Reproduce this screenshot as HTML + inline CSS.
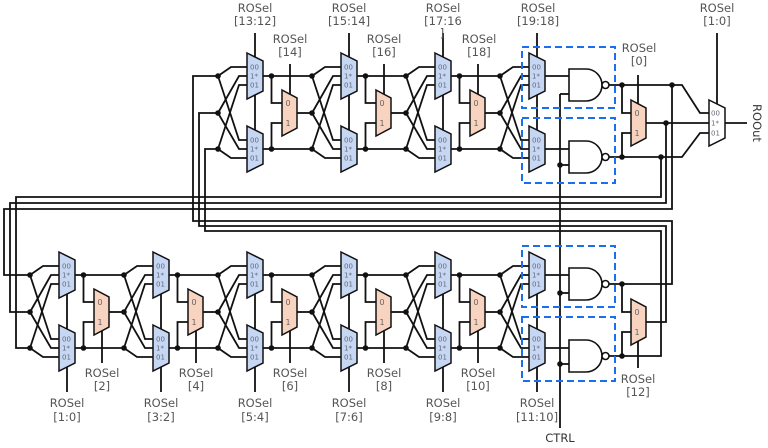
<!DOCTYPE html>
<html><head><meta charset="utf-8">
<style>
html,body{margin:0;padding:0;background:#fff;}
svg{display:block;}
.w{fill:none;stroke:#111;stroke-width:1.8;}
.b{fill:#c6d7f3;stroke:#111;stroke-width:1.5;}
.o{fill:#f8d3bf;stroke:#111;stroke-width:1.5;}
.d{fill:#111;}
.t{font-family:"DejaVu Sans","Liberation Sans",sans-serif;font-size:11.5px;fill:#555;text-anchor:middle;}
.m{font-family:"DejaVu Sans","Liberation Sans",sans-serif;font-size:7px;fill:#667;}
.n{font-family:"DejaVu Sans","Liberation Sans",sans-serif;font-size:8px;fill:#666;text-anchor:middle;}
.x{fill:none;stroke:#1a6ff0;stroke-width:2;stroke-dasharray:7 4;}
.g{fill:#fff;stroke:#111;stroke-width:1.6;}
</style></head><body>
<svg width="768" height="448" viewBox="0 0 768 448" xmlns="http://www.w3.org/2000/svg">

<!-- ===== global wiring ===== -->
<g class="w">
<polyline points="672,85 672,209 4,209 4,275 30,275"/>
<polyline points="666,123 666,203 10,203 10,312 30,312"/>
<polyline points="661,157 661,197 16,197 16,348 30,348"/>
<polyline points="609,284 672,284 672,221 193,221 193,76 218,76"/>
<polyline points="646,322 666,322 666,226 199,226 199,113 218,113"/>
<polyline points="609,356 661,356 661,231 205,231 205,149 218,149"/>
<line x1="560" y1="94" x2="560" y2="428"/>
<line x1="560" y1="94" x2="569" y2="94"/>
<line x1="560" y1="165" x2="569" y2="165"/>
<line x1="560" y1="293" x2="569" y2="293"/>
<line x1="560" y1="364" x2="569" y2="364"/>
<polyline points="609,85 682,85 700,113 709,113"/>
<polyline points="609,157 682,157 700,133 709,133"/>
<polyline points="622,85 622,113 631,113"/>
<polyline points="622,157 622,133 631,133"/>
<line x1="646" y1="123" x2="709" y2="123"/>
<line x1="725" y1="123" x2="747" y2="123"/>
<line x1="717" y1="33" x2="717" y2="106"/>
<line x1="638" y1="75" x2="638" y2="106"/>
<polyline points="622,284 622,312 631,312"/>
<polyline points="622,356 622,332 631,332"/>
<line x1="638" y1="340" x2="638" y2="368"/>
</g>

<!-- ===== TOP stages ===== -->
<g transform="translate(247,76)">
<g class="w">
<polyline points="-29,0 -16,-9 0,-9"/><polyline points="-29,37 -8,0 0,0"/><polyline points="-29,73 -8,9 0,9"/>
<polyline points="-29,0 -8,64 0,64"/><polyline points="-29,37 -8,73 0,73"/><polyline points="-29,73 -16,82 0,82"/>
<line x1="8" y1="-43" x2="8" y2="70"/>
<line x1="16" y1="0" x2="65" y2="0"/><line x1="16" y1="73" x2="65" y2="73"/><line x1="50" y1="37" x2="65" y2="37"/>
<polyline points="24.5,0 24.5,27 36,27"/><polyline points="24.5,73 24.5,47 36,47"/>
<line x1="43" y1="-12" x2="43" y2="20"/>
</g>
<polygon class="b" points="0,-23 16,-15 16,15 0,23"/><polygon class="b" points="0,50 16,58 16,88 0,96"/>
<polygon class="o" points="35,14 50,22 50,52 35,60"/>
<text class="m" x="3" y="-6.5">00</text><text class="m" x="3" y="2.5">1*</text><text class="m" x="3" y="11.5">01</text>
<text class="m" x="3" y="66.5">00</text><text class="m" x="3" y="75.5">1*</text><text class="m" x="3" y="84.5">01</text>
<text class="n" x="41" y="30">0</text><text class="n" x="41" y="50">1</text>
<circle class="d" cx="-29" cy="0" r="2.8"/><circle class="d" cx="-29" cy="37" r="2.8"/><circle class="d" cx="-29" cy="73" r="2.8"/>
<circle class="d" cx="24.5" cy="0" r="2.8"/><circle class="d" cx="24.5" cy="73" r="2.8"/>
</g>

<g transform="translate(341,76)">
<g class="w">
<polyline points="-29,0 -16,-9 0,-9"/><polyline points="-29,37 -8,0 0,0"/><polyline points="-29,73 -8,9 0,9"/>
<polyline points="-29,0 -8,64 0,64"/><polyline points="-29,37 -8,73 0,73"/><polyline points="-29,73 -16,82 0,82"/>
<line x1="8" y1="-43" x2="8" y2="70"/>
<line x1="16" y1="0" x2="65" y2="0"/><line x1="16" y1="73" x2="65" y2="73"/><line x1="50" y1="37" x2="65" y2="37"/>
<polyline points="24.5,0 24.5,27 36,27"/><polyline points="24.5,73 24.5,47 36,47"/>
<line x1="43" y1="-12" x2="43" y2="20"/>
</g>
<polygon class="b" points="0,-23 16,-15 16,15 0,23"/><polygon class="b" points="0,50 16,58 16,88 0,96"/>
<polygon class="o" points="35,14 50,22 50,52 35,60"/>
<text class="m" x="3" y="-6.5">00</text><text class="m" x="3" y="2.5">1*</text><text class="m" x="3" y="11.5">01</text>
<text class="m" x="3" y="66.5">00</text><text class="m" x="3" y="75.5">1*</text><text class="m" x="3" y="84.5">01</text>
<text class="n" x="41" y="30">0</text><text class="n" x="41" y="50">1</text>
<circle class="d" cx="-29" cy="0" r="2.8"/><circle class="d" cx="-29" cy="37" r="2.8"/><circle class="d" cx="-29" cy="73" r="2.8"/>
<circle class="d" cx="24.5" cy="0" r="2.8"/><circle class="d" cx="24.5" cy="73" r="2.8"/>
</g>

<g transform="translate(435,76)">
<g class="w">
<polyline points="-29,0 -16,-9 0,-9"/><polyline points="-29,37 -8,0 0,0"/><polyline points="-29,73 -8,9 0,9"/>
<polyline points="-29,0 -8,64 0,64"/><polyline points="-29,37 -8,73 0,73"/><polyline points="-29,73 -16,82 0,82"/>
<line x1="8" y1="-43" x2="8" y2="70"/>
<line x1="16" y1="0" x2="65" y2="0"/><line x1="16" y1="73" x2="65" y2="73"/><line x1="50" y1="37" x2="65" y2="37"/>
<polyline points="24.5,0 24.5,27 36,27"/><polyline points="24.5,73 24.5,47 36,47"/>
<line x1="43" y1="-12" x2="43" y2="20"/>
</g>
<polygon class="b" points="0,-23 16,-15 16,15 0,23"/><polygon class="b" points="0,50 16,58 16,88 0,96"/>
<polygon class="o" points="35,14 50,22 50,52 35,60"/>
<text class="m" x="3" y="-6.5">00</text><text class="m" x="3" y="2.5">1*</text><text class="m" x="3" y="11.5">01</text>
<text class="m" x="3" y="66.5">00</text><text class="m" x="3" y="75.5">1*</text><text class="m" x="3" y="84.5">01</text>
<text class="n" x="41" y="30">0</text><text class="n" x="41" y="50">1</text>
<circle class="d" cx="-29" cy="0" r="2.8"/><circle class="d" cx="-29" cy="37" r="2.8"/><circle class="d" cx="-29" cy="73" r="2.8"/>
<circle class="d" cx="24.5" cy="0" r="2.8"/><circle class="d" cx="24.5" cy="73" r="2.8"/>
</g>

<g transform="translate(529,76)">
<g class="w">
<polyline points="-29,0 -16,-9 0,-9"/><polyline points="-29,37 -8,0 0,0"/><polyline points="-29,73 -8,9 0,9"/>
<polyline points="-29,0 -8,64 0,64"/><polyline points="-29,37 -8,73 0,73"/><polyline points="-29,73 -16,82 0,82"/>
<line x1="8" y1="-43" x2="8" y2="70"/>
<line x1="16" y1="0" x2="40" y2="0"/><line x1="16" y1="73" x2="40" y2="73"/>
</g>
<polygon class="b" points="0,-23 16,-15 16,15 0,23"/><polygon class="b" points="0,50 16,58 16,88 0,96"/>
<text class="m" x="3" y="-6.5">00</text><text class="m" x="3" y="2.5">1*</text><text class="m" x="3" y="11.5">01</text>
<text class="m" x="3" y="66.5">00</text><text class="m" x="3" y="75.5">1*</text><text class="m" x="3" y="84.5">01</text>
<circle class="d" cx="-29" cy="0" r="2.8"/><circle class="d" cx="-29" cy="37" r="2.8"/><circle class="d" cx="-29" cy="73" r="2.8"/>
</g>

<!-- ===== BOTTOM stages ===== -->
<g transform="translate(59,275)">
<g class="w">
<polyline points="-29,0 -16,-9 0,-9"/><polyline points="-29,37 -8,0 0,0"/><polyline points="-29,73 -8,9 0,9"/>
<polyline points="-29,0 -8,64 0,64"/><polyline points="-29,37 -8,73 0,73"/><polyline points="-29,73 -16,82 0,82"/>
<line x1="8" y1="0" x2="8" y2="117"/>
<line x1="16" y1="0" x2="65" y2="0"/><line x1="16" y1="73" x2="65" y2="73"/><line x1="50" y1="37" x2="65" y2="37"/>
<polyline points="24.5,0 24.5,27 36,27"/><polyline points="24.5,73 24.5,47 36,47"/>
<line x1="43" y1="55" x2="43" y2="88"/>
</g>
<polygon class="b" points="0,-23 16,-15 16,15 0,23"/><polygon class="b" points="0,50 16,58 16,88 0,96"/>
<polygon class="o" points="35,14 50,22 50,52 35,60"/>
<text class="m" x="3" y="-6.5">00</text><text class="m" x="3" y="2.5">1*</text><text class="m" x="3" y="11.5">01</text>
<text class="m" x="3" y="66.5">00</text><text class="m" x="3" y="75.5">1*</text><text class="m" x="3" y="84.5">01</text>
<text class="n" x="41" y="30">0</text><text class="n" x="41" y="50">1</text>
<circle class="d" cx="-29" cy="0" r="2.8"/><circle class="d" cx="-29" cy="37" r="2.8"/><circle class="d" cx="-29" cy="73" r="2.8"/>
<circle class="d" cx="24.5" cy="0" r="2.8"/><circle class="d" cx="24.5" cy="73" r="2.8"/>
</g>

<g transform="translate(153,275)">
<g class="w">
<polyline points="-29,0 -16,-9 0,-9"/><polyline points="-29,37 -8,0 0,0"/><polyline points="-29,73 -8,9 0,9"/>
<polyline points="-29,0 -8,64 0,64"/><polyline points="-29,37 -8,73 0,73"/><polyline points="-29,73 -16,82 0,82"/>
<line x1="8" y1="0" x2="8" y2="117"/>
<line x1="16" y1="0" x2="65" y2="0"/><line x1="16" y1="73" x2="65" y2="73"/><line x1="50" y1="37" x2="65" y2="37"/>
<polyline points="24.5,0 24.5,27 36,27"/><polyline points="24.5,73 24.5,47 36,47"/>
<line x1="43" y1="55" x2="43" y2="88"/>
</g>
<polygon class="b" points="0,-23 16,-15 16,15 0,23"/><polygon class="b" points="0,50 16,58 16,88 0,96"/>
<polygon class="o" points="35,14 50,22 50,52 35,60"/>
<text class="m" x="3" y="-6.5">00</text><text class="m" x="3" y="2.5">1*</text><text class="m" x="3" y="11.5">01</text>
<text class="m" x="3" y="66.5">00</text><text class="m" x="3" y="75.5">1*</text><text class="m" x="3" y="84.5">01</text>
<text class="n" x="41" y="30">0</text><text class="n" x="41" y="50">1</text>
<circle class="d" cx="-29" cy="0" r="2.8"/><circle class="d" cx="-29" cy="37" r="2.8"/><circle class="d" cx="-29" cy="73" r="2.8"/>
<circle class="d" cx="24.5" cy="0" r="2.8"/><circle class="d" cx="24.5" cy="73" r="2.8"/>
</g>

<g transform="translate(247,275)">
<g class="w">
<polyline points="-29,0 -16,-9 0,-9"/><polyline points="-29,37 -8,0 0,0"/><polyline points="-29,73 -8,9 0,9"/>
<polyline points="-29,0 -8,64 0,64"/><polyline points="-29,37 -8,73 0,73"/><polyline points="-29,73 -16,82 0,82"/>
<line x1="8" y1="0" x2="8" y2="117"/>
<line x1="16" y1="0" x2="65" y2="0"/><line x1="16" y1="73" x2="65" y2="73"/><line x1="50" y1="37" x2="65" y2="37"/>
<polyline points="24.5,0 24.5,27 36,27"/><polyline points="24.5,73 24.5,47 36,47"/>
<line x1="43" y1="55" x2="43" y2="88"/>
</g>
<polygon class="b" points="0,-23 16,-15 16,15 0,23"/><polygon class="b" points="0,50 16,58 16,88 0,96"/>
<polygon class="o" points="35,14 50,22 50,52 35,60"/>
<text class="m" x="3" y="-6.5">00</text><text class="m" x="3" y="2.5">1*</text><text class="m" x="3" y="11.5">01</text>
<text class="m" x="3" y="66.5">00</text><text class="m" x="3" y="75.5">1*</text><text class="m" x="3" y="84.5">01</text>
<text class="n" x="41" y="30">0</text><text class="n" x="41" y="50">1</text>
<circle class="d" cx="-29" cy="0" r="2.8"/><circle class="d" cx="-29" cy="37" r="2.8"/><circle class="d" cx="-29" cy="73" r="2.8"/>
<circle class="d" cx="24.5" cy="0" r="2.8"/><circle class="d" cx="24.5" cy="73" r="2.8"/>
</g>

<g transform="translate(341,275)">
<g class="w">
<polyline points="-29,0 -16,-9 0,-9"/><polyline points="-29,37 -8,0 0,0"/><polyline points="-29,73 -8,9 0,9"/>
<polyline points="-29,0 -8,64 0,64"/><polyline points="-29,37 -8,73 0,73"/><polyline points="-29,73 -16,82 0,82"/>
<line x1="8" y1="0" x2="8" y2="117"/>
<line x1="16" y1="0" x2="65" y2="0"/><line x1="16" y1="73" x2="65" y2="73"/><line x1="50" y1="37" x2="65" y2="37"/>
<polyline points="24.5,0 24.5,27 36,27"/><polyline points="24.5,73 24.5,47 36,47"/>
<line x1="43" y1="55" x2="43" y2="88"/>
</g>
<polygon class="b" points="0,-23 16,-15 16,15 0,23"/><polygon class="b" points="0,50 16,58 16,88 0,96"/>
<polygon class="o" points="35,14 50,22 50,52 35,60"/>
<text class="m" x="3" y="-6.5">00</text><text class="m" x="3" y="2.5">1*</text><text class="m" x="3" y="11.5">01</text>
<text class="m" x="3" y="66.5">00</text><text class="m" x="3" y="75.5">1*</text><text class="m" x="3" y="84.5">01</text>
<text class="n" x="41" y="30">0</text><text class="n" x="41" y="50">1</text>
<circle class="d" cx="-29" cy="0" r="2.8"/><circle class="d" cx="-29" cy="37" r="2.8"/><circle class="d" cx="-29" cy="73" r="2.8"/>
<circle class="d" cx="24.5" cy="0" r="2.8"/><circle class="d" cx="24.5" cy="73" r="2.8"/>
</g>

<g transform="translate(435,275)">
<g class="w">
<polyline points="-29,0 -16,-9 0,-9"/><polyline points="-29,37 -8,0 0,0"/><polyline points="-29,73 -8,9 0,9"/>
<polyline points="-29,0 -8,64 0,64"/><polyline points="-29,37 -8,73 0,73"/><polyline points="-29,73 -16,82 0,82"/>
<line x1="8" y1="0" x2="8" y2="117"/>
<line x1="16" y1="0" x2="65" y2="0"/><line x1="16" y1="73" x2="65" y2="73"/><line x1="50" y1="37" x2="65" y2="37"/>
<polyline points="24.5,0 24.5,27 36,27"/><polyline points="24.5,73 24.5,47 36,47"/>
<line x1="43" y1="55" x2="43" y2="88"/>
</g>
<polygon class="b" points="0,-23 16,-15 16,15 0,23"/><polygon class="b" points="0,50 16,58 16,88 0,96"/>
<polygon class="o" points="35,14 50,22 50,52 35,60"/>
<text class="m" x="3" y="-6.5">00</text><text class="m" x="3" y="2.5">1*</text><text class="m" x="3" y="11.5">01</text>
<text class="m" x="3" y="66.5">00</text><text class="m" x="3" y="75.5">1*</text><text class="m" x="3" y="84.5">01</text>
<text class="n" x="41" y="30">0</text><text class="n" x="41" y="50">1</text>
<circle class="d" cx="-29" cy="0" r="2.8"/><circle class="d" cx="-29" cy="37" r="2.8"/><circle class="d" cx="-29" cy="73" r="2.8"/>
<circle class="d" cx="24.5" cy="0" r="2.8"/><circle class="d" cx="24.5" cy="73" r="2.8"/>
</g>

<g transform="translate(529,275)">
<g class="w">
<polyline points="-29,0 -16,-9 0,-9"/><polyline points="-29,37 -8,0 0,0"/><polyline points="-29,73 -8,9 0,9"/>
<polyline points="-29,0 -8,64 0,64"/><polyline points="-29,37 -8,73 0,73"/><polyline points="-29,73 -16,82 0,82"/>
<line x1="8" y1="0" x2="8" y2="117"/>
<line x1="16" y1="0" x2="40" y2="0"/><line x1="16" y1="73" x2="40" y2="73"/>
</g>
<polygon class="b" points="0,-23 16,-15 16,15 0,23"/><polygon class="b" points="0,50 16,58 16,88 0,96"/>
<text class="m" x="3" y="-6.5">00</text><text class="m" x="3" y="2.5">1*</text><text class="m" x="3" y="11.5">01</text>
<text class="m" x="3" y="66.5">00</text><text class="m" x="3" y="75.5">1*</text><text class="m" x="3" y="84.5">01</text>
<circle class="d" cx="-29" cy="0" r="2.8"/><circle class="d" cx="-29" cy="37" r="2.8"/><circle class="d" cx="-29" cy="73" r="2.8"/>
</g>

<!-- ===== NAND gates ===== -->
<path class="g" d="M569,69 H586 A16,16 0 0 1 586,101 H569 Z"/><circle class="g" cx="605.5" cy="85" r="3.5"/>
<path class="g" d="M569,141 H586 A16,16 0 0 1 586,173 H569 Z"/><circle class="g" cx="605.5" cy="157" r="3.5"/>
<path class="g" d="M569,268 H586 A16,16 0 0 1 586,300 H569 Z"/><circle class="g" cx="605.5" cy="284" r="3.5"/>
<path class="g" d="M569,340 H586 A16,16 0 0 1 586,372 H569 Z"/><circle class="g" cx="605.5" cy="356" r="3.5"/>

<!-- final muxes -->
<polygon class="o" points="631,100 646,108 646,138 631,146"/>
<text class="n" x="637" y="116">0</text><text class="n" x="637" y="136">1</text>
<polygon class="o" points="631,299 646,307 646,337 631,345"/>
<text class="n" x="637" y="315">0</text><text class="n" x="637" y="335">1</text>
<polygon class="b" points="709,100 725,108 725,138 709,146" style="fill:#fff"/>
<text class="m" x="711" y="115.5">00</text><text class="m" x="711" y="125.5">1*</text><text class="m" x="711" y="135.5">01</text>

<!-- dots -->
<g class="d">
<circle cx="622" cy="85" r="2.8"/><circle cx="672" cy="85" r="2.8"/><circle cx="666" cy="123" r="2.8"/>
<circle cx="622" cy="157" r="2.8"/><circle cx="661" cy="157" r="2.8"/>
<circle cx="560" cy="165" r="2.8"/><circle cx="560" cy="293" r="2.8"/><circle cx="560" cy="364" r="2.8"/>
<circle cx="622" cy="284" r="2.8"/><circle cx="622" cy="356" r="2.8"/>
</g>

<!-- dashed boxes -->
<rect class="x" x="522" y="47" width="93" height="61"/>
<rect class="x" x="522" y="118" width="93" height="65"/>
<rect class="x" x="522" y="246" width="93" height="61"/>
<rect class="x" x="522" y="317" width="93" height="64"/>

<!-- ===== labels ===== -->
<g class="t">
<text x="255" y="12">ROSel</text><text x="255" y="25">[13:12]</text>
<text x="290" y="43">ROSel</text><text x="290" y="56">[14]</text>
<text x="349" y="12">ROSel</text><text x="349" y="25">[15:14]</text>
<text x="384" y="43">ROSel</text><text x="384" y="56">[16]</text>
<text x="443" y="12">ROSel</text><text x="443" y="25">[17:16</text><text x="442" y="37">]</text>
<text x="479" y="43">ROSel</text><text x="479" y="56">[18]</text>
<text x="538" y="12">ROSel</text><text x="538" y="25">[19:18]</text>
<text x="639" y="52">ROSel</text><text x="639" y="65">[0]</text>
<text x="717" y="12">ROSel</text><text x="717" y="25">[1:0]</text>

<text x="67" y="407">ROSel</text><text x="67" y="421">[1:0]</text>
<text x="161" y="407">ROSel</text><text x="161" y="421">[3:2]</text>
<text x="255" y="407">ROSel</text><text x="255" y="421">[5:4]</text>
<text x="349" y="407">ROSel</text><text x="349" y="421">[7:6]</text>
<text x="443" y="407">ROSel</text><text x="443" y="421">[9:8]</text>
<text x="537" y="407">ROSel</text><text x="537" y="421">[11:10]</text>

<text x="102" y="377">ROSel</text><text x="102" y="390">[2]</text>
<text x="196" y="377">ROSel</text><text x="196" y="390">[4]</text>
<text x="290" y="377">ROSel</text><text x="290" y="390">[6]</text>
<text x="384" y="377">ROSel</text><text x="384" y="390">[8]</text>
<text x="478" y="377">ROSel</text><text x="478" y="390">[10]</text>
<text x="638" y="383">ROSel</text><text x="638" y="396">[12]</text>

<text x="560" y="442" style="fill:#333">CTRL</text>
<text transform="translate(753,123) rotate(90)" style="fill:#333">ROOut</text>
</g>
</svg>
</body></html>
